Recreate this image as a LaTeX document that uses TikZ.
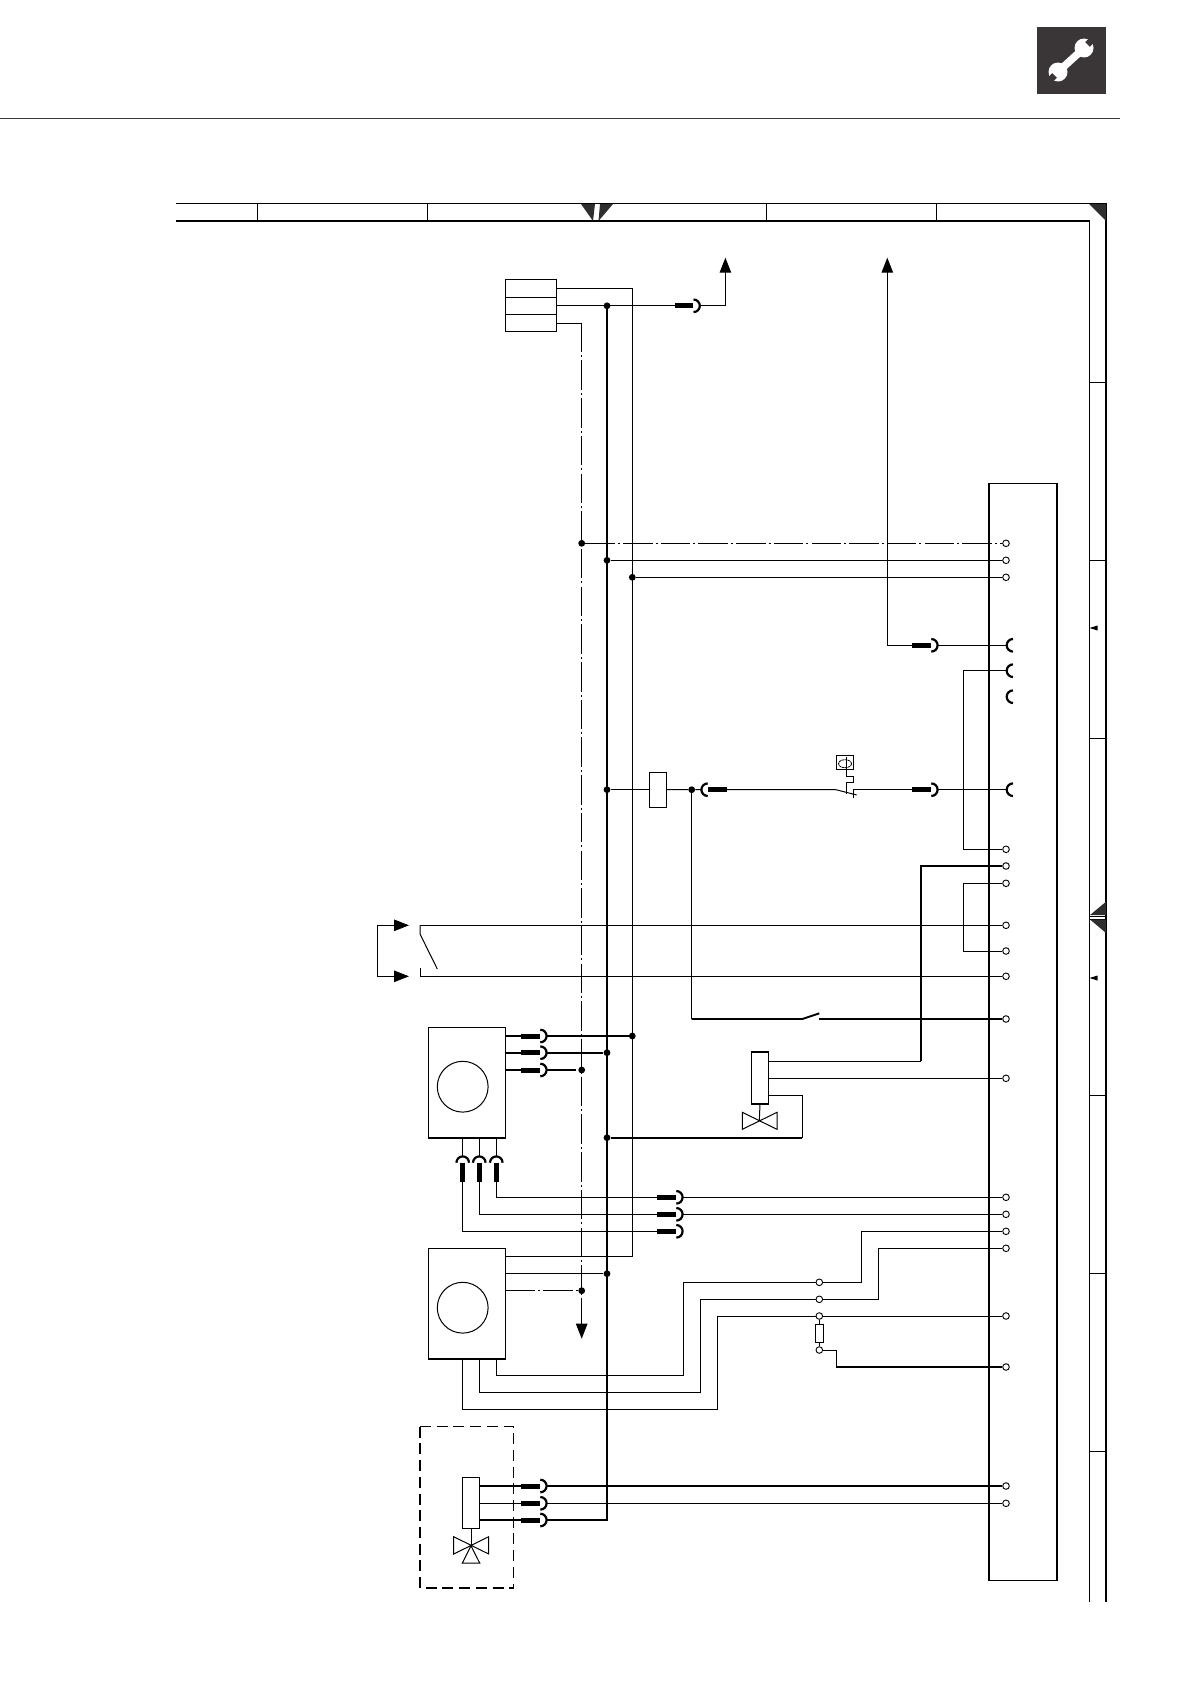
\documentclass[tikz,border=0pt]{standalone}
\usetikzlibrary{arrows.meta}
\definecolor{toolgray}{HTML}{3A3536}
\definecolor{wedgegray}{HTML}{2E2E2E}
\tikzset{
	wire/.style={line width=1pt},
	wirethick/.style={line width=1.9pt},
	dashdot/.style={line width=1pt,dash pattern=on 29.5pt off 3pt on 2pt off 3.2pt},
	term/.style={circle,draw,fill=white,line width=.9pt,inner sep=0pt,minimum size=6.6pt},
	joint/.style={circle,fill=black,inner sep=0pt,minimum size=6.8pt},
	boxnode/.style={rectangle,draw,line width=1pt,inner sep=0pt,outer sep=0pt},
	bigtip/.style={-{Triangle[length=15pt,width=11.5pt]}},
	plugr/.pic={
		\fill[white] (18,-1.6) rectangle (25,1.6);
		\draw[line width=5pt] (0,0) -- (18.5,0);
		\draw[line width=2.2pt] (19,-6.3) arc[start angle=90,end angle=-90,radius=6.3pt];
	},
	socket/.pic={
		\draw[line width=2.2pt] (6.3,-6.3) arc[start angle=90,end angle=270,radius=6.3pt];
	}
}
\begin{document}
\begin{tikzpicture}[x=1pt,y=-1pt]
	\useasboundingbox (0,0) rectangle (1191,1684);
	% page head
	\fill[toolgray] (1036.7,26.5) rectangle (1106,94);
	\fill[white] (1084,48) circle[radius=9.5pt];
	\fill[white] (1058,72) circle[radius=9.5pt];
	\draw[white,line width=7.5pt] (1060,70) -- (1082,50);
	\draw[toolgray,line width=6.5pt] (1087.5,44.5) -- (1097,35);
	\draw[toolgray,line width=6.5pt] (1054.5,75.5) -- (1045,85);
	\draw[toolgray,line width=1pt] (0,118.3) -- (1120,118.3);
	% frame
	\draw[line width=1.2pt] (176,203.3) -- (1106,203.3) -- (1106,1602);
	\draw[line width=2.4pt] (176,221) -- (1090,221);
	\draw[line width=1pt] (1089.5,221) -- (1089.5,1602);
	\foreach \fx in {257.5,427,766.4,936.6}
		\draw[line width=1pt] (\fx,203.3) -- (\fx,221);
	\foreach \fy in {382,560,738.3,916,919,1095,1273,1451.6}
		\draw[line width=1pt] (1089.5,\fy) -- (1106,\fy);
	\fill[wedgegray] (581,204) -- (595,204) -- (593,221) -- cycle;
	\fill[wedgegray] (600,204) -- (613,204) -- (598.5,221) -- cycle;
	\fill[wedgegray] (1089,204) -- (1106,204) -- (1106,221) -- cycle;
	\fill[wedgegray] (1090,915) -- (1106,901.7) -- (1106,915) -- cycle;
	\fill[wedgegray] (1090,919.5) -- (1106,919.5) -- (1106,933) -- cycle;
	\foreach \fy in {628,978}
		\fill (1089.5,\fy) -- (1097.5,\fy-2.5) -- (1097.5,\fy+2.5) -- cycle;
	% boxes
	\node[boxnode,minimum width=51pt,minimum height=17.3pt] (cella) at (530.5,288.5) {};
	\node[boxnode,minimum width=51pt,minimum height=17.3pt] (cellb) at (530.5,305.8) {};
	\node[boxnode,minimum width=51pt,minimum height=17.3pt] (cellc) at (530.5,323.1) {};
	\node[boxnode,line width=1.9pt,minimum width=68pt,minimum height=1097pt] (ctrl) at (1023,1032) {};
	\node[boxnode,minimum width=77pt,minimum height=110.7pt] (pumpa) at (466.8,1082.7) {};
	\node[boxnode,minimum width=77pt,minimum height=110.4pt] (pumpb) at (466.8,1303.5) {};
	\node[boxnode,minimum width=17.4pt,minimum height=34.7pt] (relay) at (658,789.7) {};
	\node[boxnode,minimum width=17.4pt,minimum height=51.7pt] (acta) at (760,1078.2) {};
	\node[boxnode,minimum width=17.4pt,minimum height=51.4pt] (actb) at (471,1503) {};
	\node[boxnode,minimum width=16.5pt,minimum height=13.6pt] (sens) at (845,762.5) {};
	\node[boxnode,minimum width=7.7pt,minimum height=17.7pt] (res) at (819.3,1333.2) {};
	\draw[line width=1.6pt] (pumpa.north east) -- (pumpa.south east) -- (pumpa.south west);
	\draw[line width=1.6pt] (pumpb.north east) -- (pumpb.south east) -- (pumpb.south west);
	\draw[line width=1.9pt] (acta.north west) -- (acta.north east);
	\draw[line width=1.9pt] (acta.south west) -- (acta.south east);
	\draw[wire] (462.7,1086.7) circle[radius=25.4pt];
	\draw[wire] (462.7,1307.7) circle[radius=25.4pt];
	% terminals
	\foreach \tn/\ty in {1/543.3,2/560.3,3/577.3,4/849.3,5/866,6/883.3,7/925.3,8/951,9/976.3,10/1019,
		11/1078.3,12/1197.3,13/1214.3,14/1231.3,15/1248.3,16/1316,17/1367,18/1486,19/1503.3}
		\node[term] (t\tn) at (1006,\ty) {};
	\node[term] (ca) at (819.3,1282.3) {};
	\node[term] (cb) at (819.3,1299.3) {};
	\node[term] (cc) at (819.3,1316) {};
	\node[term] (cd) at (819.3,1350) {};
	% joints
	\node[joint] (dtop) at (607,305.8) {};
	\node[joint] (da) at (581.7,543.3) {};
	\node[joint] (db) at (607,560.3) {};
	\node[joint] (dc) at (632.3,577.3) {};
	\node[joint] (dr) at (607,789.7) {};
	\node[joint] (ds) at (691.7,789.7) {};
	\node[joint] (d1) at (632.3,1036) {};
	\node[joint] (d2) at (607,1052.7) {};
	\node[joint] (d3) at (581.7,1070) {};
	\node[joint] (dv) at (607,1137.7) {};
	\node[joint] (d4) at (607,1273.7) {};
	\node[joint] (d5) at (581.7,1290.7) {};
	% free ends
	\coordinate (topa) at (725.4,257.7);
	\coordinate (topb) at (887.3,257.7);
	\coordinate (downa) at (581.7,1338.7);
	\coordinate (sa) at (1006.7,645.3);
	\coordinate (sb) at (1006.7,670.7);
	\coordinate (sc) at (1006.7,696.7);
	\coordinate (sd) at (1006.7,789.7);
	\coordinate (busend) at (607,1520);
	\coordinate (swa) at (420,925.3);
	\coordinate (swb) at (420,976.3);
	\coordinate (loopa) at (409,925.3);
	\coordinate (loopb) at (409,976.3);
	% main lines
	\draw[wire] (cella.east) -| (632.3,1256.7) -- (pumpb.east |- 0,1256.7);
	\draw[wire,bigtip] (cellb.east) -| (topa);
	\draw[wire] (cellc.east) -| (581.7,350);
	\draw[dashdot] (581.7,322.7) -- (581.7,1325);
	\draw[wire,bigtip] (581.7,1300) -- (downa);
	\draw[wirethick] (dtop) -- (busend) -- (actb.east |- busend);
	\draw[dashdot] (da) -- (t1);
	\draw[wire] (db) -- (t2);
	\draw[wire] (dc) -- (t3);
	% row of the sockets
	\draw[wire,bigtip] (sa) -| (topb);
	\draw[wire] (sb) -| (963.3,849.3) -- (t4);
	\draw[wire] (dr) -- (relay);
	\draw[wire] (relay) -- (ds) -- (836,789.7) -- (856.7,795);
	\draw[wire] (853.3,789.7) -- (sd);
	\draw[wire] (853.3,789.7) -- (853.3,798.3);
	\draw[wire] (846.3,769.3) -- (846.3,776.7) -- (853.3,776.7) -- (853.3,782.3) -- (846.3,782.3) -- (846.3,793.7);
	\draw[line width=.8pt,dash pattern=on 2.5pt off .6pt] (845,763.7) ellipse[x radius=6.5pt,y radius=4pt];
	\draw[line width=.8pt] (846.3,757) -- (846.3,769.3);
	\draw[wire] (ds) -- (691.7,1019);
	\draw[wirethick] (691.7,1019) -- (802.3,1019) -- (819.3,1013.3);
	\draw[wirethick] (819.3,1019) -- (t10);
	% upper right lines
	\draw[wirethick] (t5) -| (921,1061.3);
	\draw[wire] (acta.east |- 0,1061.3) -- (921,1061.3);
	\draw[wire] (t6) -| (963.3,951) -- (t8);
	\draw[wire] (swa) -- (t7);
	\draw[wire] (swb) -- (t9);
	\draw[wire] (swa) -- (420,934) -- (437.3,969);
	\draw[wire] (420,968) -- (swb);
	\draw[wire,{Triangle[length=15pt,width=11.5pt]}-{Triangle[length=15pt,width=11.5pt]}] (loopa) -- (377.3,925.3) -- (377.3,976.3) -- (loopb);
	% valve
	\draw[wire] (acta.east |- t11) -- (t11);
	\draw[wire] (acta.east |- 0,1095.3) -| (802.3,1137.7);
	\draw[wirethick] (802.3,1137.7) -- (dv);
	\draw[wire] (acta.south) -- (759.3,1121);
	\draw[wire] (742.3,1112.3) -- (777,1129.3) -- (777,1112.3) -- (742.3,1129.3) -- cycle;
	% upper pump
	\draw[wirethick] (pumpa.east |- d1) -- (d1);
	\draw[wirethick] (pumpa.east |- d2) -- (d2);
	\draw[wirethick] (pumpa.east |- d3) -- (521,1070);
	\draw[dashdot,line width=1.5pt] (546.7,1070) -- (d3);
	\draw[wire] (496.3,1138) |- (t12);
	\draw[wire] (479.3,1138) |- (t13);
	\draw[wire] (462.7,1138) |- (657.3,1231.3);
	% lower pump
	\draw[wire] (pumpb.east |- d4) -- (d4);
	\draw[dashdot] (pumpb.east |- d5) -- (d5);
	\draw[wire] (496.3,1358.7) |- (683.3,1375.3) -- (683.3,1282.3) -- (ca);
	\draw[wire] (479.3,1358.7) |- (700.3,1392.3) -- (700.3,1299.3) -- (cb);
	\draw[wire] (462.7,1358.7) |- (717.3,1409.3) -- (717.3,1316) -- (cc);
	\draw[wire] (ca) -| (861.7,1231.3) -- (t14);
	\draw[wire] (cb) -| (878.3,1248.3) -- (t15);
	\draw[wire] (cc) -- (t16);
	\draw[wire] (cc) -- (res);
	\draw[wire] (res) -- (cd);
	\draw[wire] (cd) -| (836.3,1367);
	\draw[wirethick] (836.3,1367) -- (t17);
	% mixing valve
	\draw[wirethick] (actb.east |- t18) -- (t18);
	\draw[wire] (actb.east |- t19) -- (t19);
	\draw[wire] (actb.south) -- (471,1545.7);
	\draw[wire] (453.7,1536.7) -- (488.7,1554) -- (488.7,1536.7) -- (453.7,1554) -- cycle;
	\draw[wire] (471,1545.7) -- (479.7,1563) -- (462.3,1563) -- cycle;
	\draw[line width=1.1pt,dash pattern=on 11pt off 5.7pt] (420,1426.7) -- (513.7,1426.7) -- (513.7,1588);
	\draw[line width=1.9pt,dash pattern=on 11pt off 5.7pt] (420,1426.7) -- (420,1588) -- (513.7,1588);
	% plugs
	\foreach \py in {1036,1052.7,1070,1486,1503.3,1520}
		\pic at (521.3,\py) {plugr};
	\foreach \py in {1197.3,1214.3,1231.3}
		\pic at (657.3,\py) {plugr};
	\foreach \px in {462.7,479.3,496.3}
		\pic[rotate=90] at (\px,1181.7) {plugr};
	\pic at (674.5,305.8) {plugr};
	\pic at (912.3,645.3) {plugr};
	\pic at (912.3,789.7) {plugr};
	\pic[xscale=-1] at (726.7,789.7) {plugr};
	\pic at (sa) {socket};
	\pic at (sb) {socket};
	\pic at (sc) {socket};
	\pic at (sd) {socket};
\end{tikzpicture}
\end{document}
